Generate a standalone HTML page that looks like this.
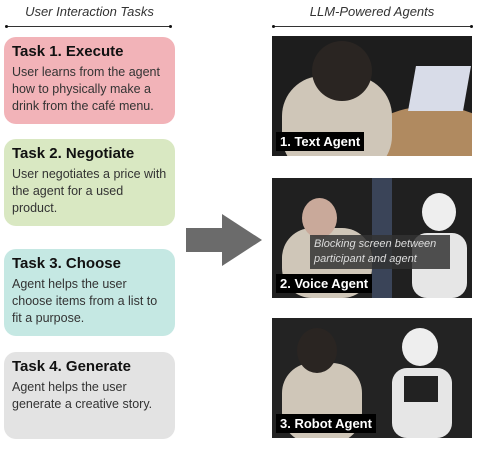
<!DOCTYPE html>
<html><head><style>
body{margin:0;width:493px;height:455px;background:#fff;font-family:"Liberation Sans","DejaVu Sans",sans-serif;position:relative;overflow:hidden}
.h{position:absolute;font-style:italic;font-size:13px;color:#333;text-align:center}
.line{position:absolute;height:1px;background:#333}
.dot{position:absolute;width:3px;height:3px;border-radius:50%;background:#111}
.box{position:absolute;left:4px;width:171px;border-radius:12px;box-sizing:border-box;padding:6px 8px}
.box b{display:block;font-size:15px;color:#111;margin-bottom:4px}
.box span{display:block;font-size:12.5px;line-height:17px;color:#333}
.ph{position:absolute;left:272px;width:200px;height:120px;overflow:hidden;background:#1d1d1d}
.lab{position:absolute;left:4px;bottom:5px;background:#000;color:#fff;font-weight:bold;font-size:13px;padding:2px 4px}
</style></head><body>
<div class="h" style="left:4px;top:4px;width:171px">User Interaction Tasks</div>
<div class="line" style="left:6px;top:26px;width:165px"></div>
<div class="dot" style="left:5px;top:25px"></div><div class="dot" style="left:169px;top:25px"></div>
<div class="h" style="left:272px;top:4px;width:200px">LLM-Powered Agents</div>
<div class="line" style="left:273px;top:26px;width:198px"></div>
<div class="dot" style="left:272px;top:25px"></div><div class="dot" style="left:470px;top:25px"></div>

<div class="box" style="top:37px;height:87px;background:#f2b3b8"><b>Task 1. Execute</b><span>User learns from the agent how to physically make a drink from the café menu.</span></div>
<div class="box" style="top:139px;height:87px;background:#d9e8c2"><b>Task 2. Negotiate</b><span>User negotiates a price with the agent for a used product.</span></div>
<div class="box" style="top:249px;height:87px;background:#c5e8e3"><b>Task 3. Choose</b><span>Agent helps the user choose items from a list to fit a purpose.</span></div>
<div class="box" style="top:352px;height:87px;background:#e3e3e3"><b>Task 4. Generate</b><span>Agent helps the user generate a creative story.</span></div>

<svg style="position:absolute;left:184px;top:212px" width="80" height="56"><polygon points="2,16 38,16 38,2 78,28 38,54 38,40 2,40" fill="#6b6b6b"/></svg>

<div class="ph" style="top:36px">
<div style="position:absolute;left:90px;top:70px;width:140px;height:80px;border-radius:50%;background:#b08a60"></div>
<div style="position:absolute;left:10px;top:40px;width:110px;height:100px;border-radius:40px;background:#cfc6b8"></div>
<div style="position:absolute;left:40px;top:5px;width:60px;height:60px;border-radius:50%;background:#2a2522"></div>
<div style="position:absolute;left:140px;top:30px;width:55px;height:45px;background:#d8dce8;transform:skewX(-10deg)"></div>
<div class="lab">1. Text Agent</div></div>

<div class="ph" style="top:178px;background:#202020">
<div style="position:absolute;left:100px;top:0;width:20px;height:120px;background:#3a4458"></div>
<div style="position:absolute;left:10px;top:50px;width:90px;height:70px;border-radius:30px;background:#cfc6b8"></div>
<div style="position:absolute;left:30px;top:20px;width:35px;height:40px;border-radius:50%;background:#c9a99a"></div>
<div style="position:absolute;left:150px;top:15px;width:34px;height:38px;border-radius:50%;background:#eee"></div>
<div style="position:absolute;left:140px;top:55px;width:55px;height:65px;border-radius:15px;background:#e6e6e6"></div>
<div style="position:absolute;left:38px;top:57px;width:140px;height:34px;background:rgba(50,50,50,.85);color:#ddd;font-style:italic;font-size:11px;line-height:15px;padding:2px 4px;box-sizing:border-box">Blocking screen between participant and agent</div>
<div class="lab">2. Voice Agent</div></div>

<div class="ph" style="top:318px;background:#232323">
<div style="position:absolute;left:10px;top:45px;width:80px;height:80px;border-radius:30px;background:#cfc6b8"></div>
<div style="position:absolute;left:25px;top:10px;width:40px;height:45px;border-radius:50%;background:#2a2522"></div>
<div style="position:absolute;left:130px;top:10px;width:36px;height:38px;border-radius:50%;background:#eee"></div>
<div style="position:absolute;left:120px;top:50px;width:60px;height:70px;border-radius:15px;background:#e6e6e6"></div>
<div style="position:absolute;left:132px;top:58px;width:34px;height:26px;background:#222"></div>
<div class="lab">3. Robot Agent</div></div>
</body></html>
